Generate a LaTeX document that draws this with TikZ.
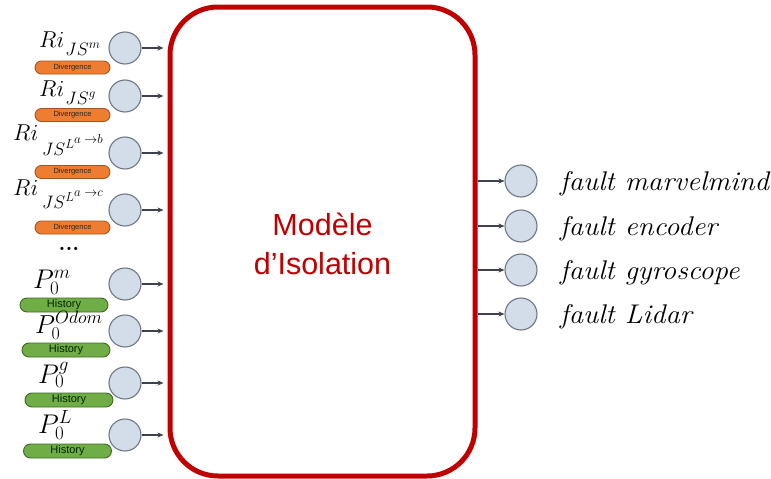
\RequirePackage{fix-cm}
\documentclass[tikz,border=0pt]{standalone}
\usepackage{fontspec}
\usetikzlibrary{arrows.meta}
\newfontfamily\arialf{Liberation Sans}
% math sizes for the label sizes used below
\DeclareMathSizes{23}{23}{18}{13}
\DeclareMathSizes{27}{27}{19}{14}
\DeclareMathSizes{26}{26}{18}{13}
\definecolor{boxred}{HTML}{C00000}
\definecolor{circfill}{HTML}{D3DDE9}
\definecolor{circline}{HTML}{6E7782}
\definecolor{orangefill}{HTML}{ED7D31}
\definecolor{orangeedge}{HTML}{A85420}
\definecolor{greenfill}{HTML}{70AD47}
\definecolor{greenedge}{HTML}{3D6B22}
\definecolor{arrowgray}{HTML}{3F4150}
\begin{document}
\begin{tikzpicture}[x=1pt,y=-1pt,
  sensor/.style={circle, draw=circline, fill=circfill, line width=1.1pt,
    minimum size=32pt, inner sep=0pt},
  divpill/.style={rectangle, rounded corners=6.5pt, draw=orangeedge, fill=orangefill,
    line width=0.9pt, minimum width=75pt, minimum height=13pt, inner sep=0pt,
    text=black!85, font=\arialf\fontsize{7.5}{8}\selectfont},
  histpill/.style={rectangle, rounded corners=7pt, draw=greenedge, fill=greenfill,
    line width=0.9pt, minimum width=88pt, minimum height=14pt, inner sep=0pt,
    text=black!85!green, font=\arialf\fontsize{11}{12}\selectfont},
  feed/.style={-{Stealth[length=6pt,width=5pt]}, line width=1.2pt, draw=arrowgray},
  rilabel/.style={anchor=base west, inner sep=0pt, font=\fontsize{23}{26}\selectfont},
  plabel/.style={anchor=base west, inner sep=0pt, font=\fontsize{27}{30}\selectfont},
  faultlabel/.style={anchor=base west, inner sep=0pt, font=\itshape\fontsize{27}{30}\selectfont}]
\useasboundingbox (0,0) rectangle (771,479);

% isolation model block
\node[draw=boxred, line width=5pt, rounded corners=48pt, minimum width=305pt,
      minimum height=469pt, inner sep=0pt] (box) at (322.5,241.5) {};
\node[align=center, text=boxred, inner sep=0pt,
      font=\arialf\fontsize{30.5}{39}\selectfont] (title) at (322.5,244)
      {Modèle\\d’Isolation};

% residual inputs
\node[divpill] (d1) at (72.5,67.5) {Divergence};
\node[divpill] (d2) at (72.5,115) {Divergence};
\node[divpill] (d3) at (72.5,172) {Divergence};
\node[divpill] (d4) at (72.5,227.5) {Divergence};

\node[rilabel] (ri1) at (39,47) {$Ri\mkern1mu\raisebox{-8pt}{$\scriptstyle JS^m$}$};
\node[rilabel] (ri2) at (39,96) {$Ri\mkern1mu\raisebox{-8pt}{$\scriptstyle JS^g$}$};
\node[rilabel] (ri3) at (13,140) {$Ri\mkern3mu\raisebox{-15pt}{$\scriptstyle JS^{L^{a\;{\to}b}}$}$};
\node[rilabel] (ri4) at (13,195) {$Ri\mkern3mu\raisebox{-13pt}{$\scriptstyle JS^{L^{a\;{\to}c}}$}$};

\node[font=\bfseries\fontsize{22}{24}\selectfont, inner sep=0pt] (dots) at (69,249) {...};

% history inputs
\node[histpill] (h1) at (64,305) {History};
\node[histpill] (h2) at (66,350) {History};
\node[histpill] (h3) at (69,400) {History};
\node[histpill] (h4) at (67.5,451) {History};

\node[plabel] (p1) at (33,288) {$P^m_0$};
\node[plabel, font=\fontsize{26}{29}\selectfont] (p2) at (35,333) {$P^{Odom}_0$};
\node[plabel] (p3) at (38,383) {$P^g_0$};
\node[plabel] (p4) at (38,433) {$P^L_0$};

% input neurons
\foreach \n/\y in {1/48,2/96,3/153,4/210,5/284,6/331,7/383,8/435}{
  \node[sensor] (in\n) at (125,\y) {};
  \draw[feed, shorten >=4pt] (in\n.east) -- (in\n -| box.west);
}

% output neurons
\foreach \n/\y/\t in {1/181/fault marvelmind,2/226/fault encoder,
                      3/270/fault gyroscope,4/314/fault Lidar}{
  \node[sensor] (out\n) at (521,\y) {};
  \draw[feed] (out\n -| box.east) -- (out\n.west);
  \node[faultlabel] (f\n) at (560,\y+9) {\scalebox{1.065}[1]{\t}};
}
\end{tikzpicture}
\end{document}
